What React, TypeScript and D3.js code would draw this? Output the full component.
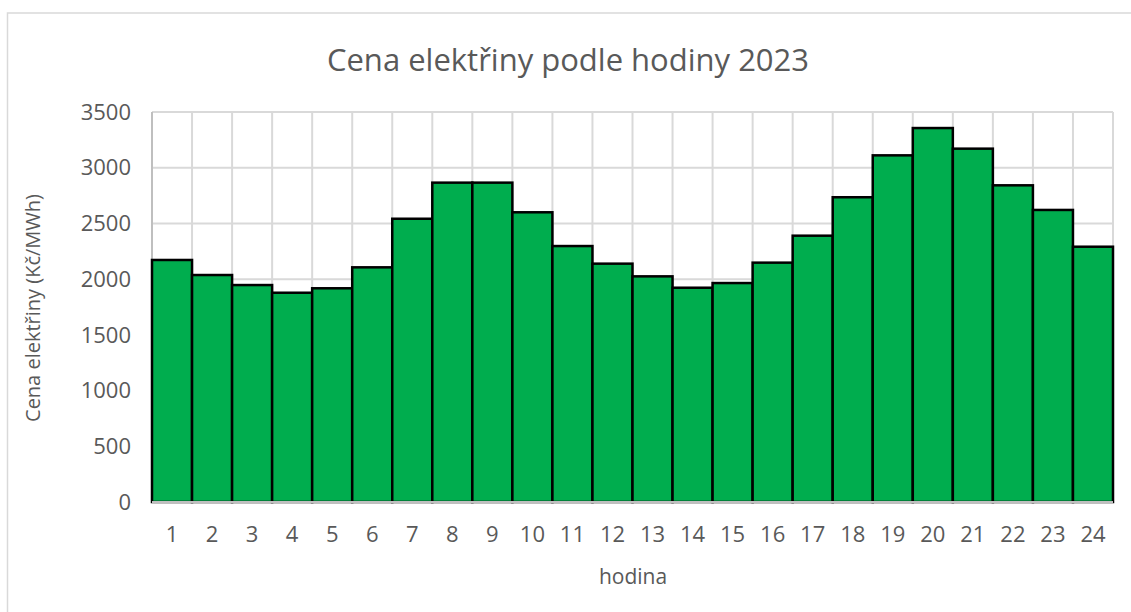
import * as d3 from "d3";

// hodnoty
const hours = ["1","2","3","4","5","6","7","8","9","10","11","12","13","14","15","16","17","18","19","20","21","22","23","24"];
const prices = [2172, 2037, 1947, 1878, 1918, 2106, 2542, 2866, 2866, 2600, 2297, 2139, 2025, 1923, 1965, 2148, 2390, 2735, 3111, 3356, 3171, 2842, 2621, 2291];
const yTicks = [0, 500, 1000, 1500, 2000, 2500, 3000, 3500];

const W = 1131;
const H = 612;
const FONT = "'Open Sans', 'Liberation Sans', sans-serif";
const TXT = "#595959";

export default function App() {
  const left = 152, right = 1113, top = 112, bottom = 502;

  const x = d3.scaleBand().domain(hours).range([left, right]).padding(0);
  const y = d3.scaleLinear().domain([0, 3500]).range([bottom, top]);

  return (
    <svg
      width={W}
      height={H}
      style={{ position: "absolute", left: 0, top: 0, background: "#fff" }}
    >
      {/* chart frame */}
      <rect x={7.5} y={13} width={W + 20} height={H + 20} fill="#fff" stroke="#d9d9d9" strokeWidth={1.5} />

      <text x={568} y={71} textAnchor="middle" fontFamily={FONT} fontSize={31} fill={TXT}>
        Cena elektřiny podle hodiny 2023
      </text>

      {/* gridlines */}
      {yTicks.map((t) => (
        <line key={"h" + t} x1={left} x2={right} y1={y(t)} y2={y(t)} stroke="#d9d9d9" strokeWidth={2} />
      ))}
      {hours.map((h) => (
        <line key={"v" + h} x1={x(h)! + x.bandwidth()} x2={x(h)! + x.bandwidth()} y1={top} y2={bottom} stroke="#d9d9d9" strokeWidth={2} />
      ))}
      <line x1={left} x2={left} y1={top} y2={bottom} stroke="#bfbfbf" strokeWidth={2} />

      {/* bars */}
      {prices.map((v, i) => (
        <rect
          key={i}
          x={x(hours[i])}
          y={y(v)}
          width={x.bandwidth()}
          height={bottom - y(v)}
          fill="#00AD4E"
          stroke="#000"
          strokeWidth={2.5}
        />
      ))}
      <line x1={left} x2={right} y1={bottom} y2={bottom} stroke="#bfbfbf" strokeWidth={2} />

      {/* y axis */}
      {yTicks.map((t) => (
        <text key={"yt" + t} x={131} y={y(t)} dy="0.35em" textAnchor="end" fontFamily={FONT} fontSize={22} fill={TXT}>
          {t}
        </text>
      ))}
      <text
        transform={`translate(40, ${308}) rotate(-90)`}
        textAnchor="middle"
        fontFamily={FONT}
        fontSize={20}
        fill={TXT}
      >
        Cena elektřiny (Kč/MWh)
      </text>

      {/* x axis */}
      {hours.map((h) => (
        <text key={"xt" + h} x={x(h)! + x.bandwidth() / 2} y={542} textAnchor="middle" fontFamily={FONT} fontSize={22} fill={TXT}>
          {h}
        </text>
      ))}
      <text x={633} y={584} textAnchor="middle" fontFamily={FONT} fontSize={21} fill={TXT}>
        hodina
      </text>
    </svg>
  );
}
